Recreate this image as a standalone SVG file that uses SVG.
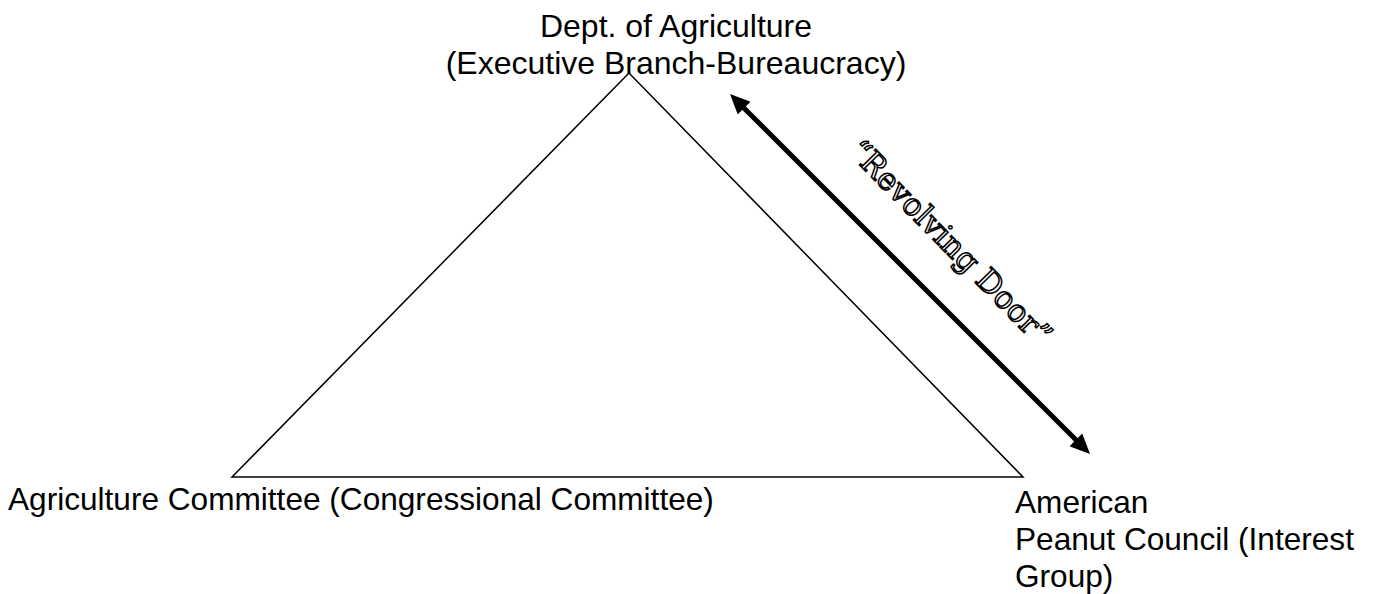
<svg xmlns="http://www.w3.org/2000/svg" width="1376" height="594" viewBox="0 0 1376 594">
  <style>
    .label { font-family: "Liberation Sans", Arial, sans-serif; font-size: 32px; fill: #000; }
    .small { font-size: 31.6px; }
    .outline { font-family: "DejaVu Serif", "Liberation Serif", serif; font-size: 31px; fill: #fff; stroke: #000; stroke-width: 1.5px; }
    .edge { fill: none; stroke: #000; stroke-width: 1.5; }
    .door { fill: none; stroke: #000; stroke-width: 5; }
  </style>
  <defs>
    <marker id="head" viewBox="0 0 20 18" refX="1" refY="9" markerWidth="20" markerHeight="18" markerUnits="userSpaceOnUse" orient="auto-start-reverse">
      <path d="M0,0 L20,9 L0,18 z" fill="#000"/>
    </marker>
  </defs>

  <rect width="1376" height="594" fill="#fff"/>

  <!-- iron triangle -->
  <g id="triangle">
    <polygon class="edge" points="629,73 232,477 1023,477"/>
  </g>

  <!-- top vertex: executive branch -->
  <g id="node-agriculture-dept">
    <text class="label" x="676" y="37" text-anchor="middle">Dept. of Agriculture</text>
    <text class="label" x="676" y="74" text-anchor="middle">(Executive Branch-Bureaucracy)</text>
  </g>

  <!-- bottom-left vertex: congress -->
  <g id="node-agriculture-committee">
    <text class="label small" x="8" y="510">Agriculture Committee (Congressional Committee)</text>
  </g>

  <!-- bottom-right vertex: interest group -->
  <g id="node-peanut-council">
    <text class="label small" x="1015" y="513">American</text>
    <text class="label small" x="1015" y="550">Peanut Council (Interest</text>
    <text class="label small" x="1015" y="587">Group)</text>
  </g>

  <!-- revolving door between bureaucracy and interest group -->
  <g id="connectors">
    <path class="door" d="M743.4,107.4 L1076.6,440.6" marker-start="url(#head)" marker-end="url(#head)"/>
    <text class="outline" x="943" y="250" text-anchor="middle" transform="rotate(45.5 943 250)">“Revolving Door”</text>
  </g>
</svg>
